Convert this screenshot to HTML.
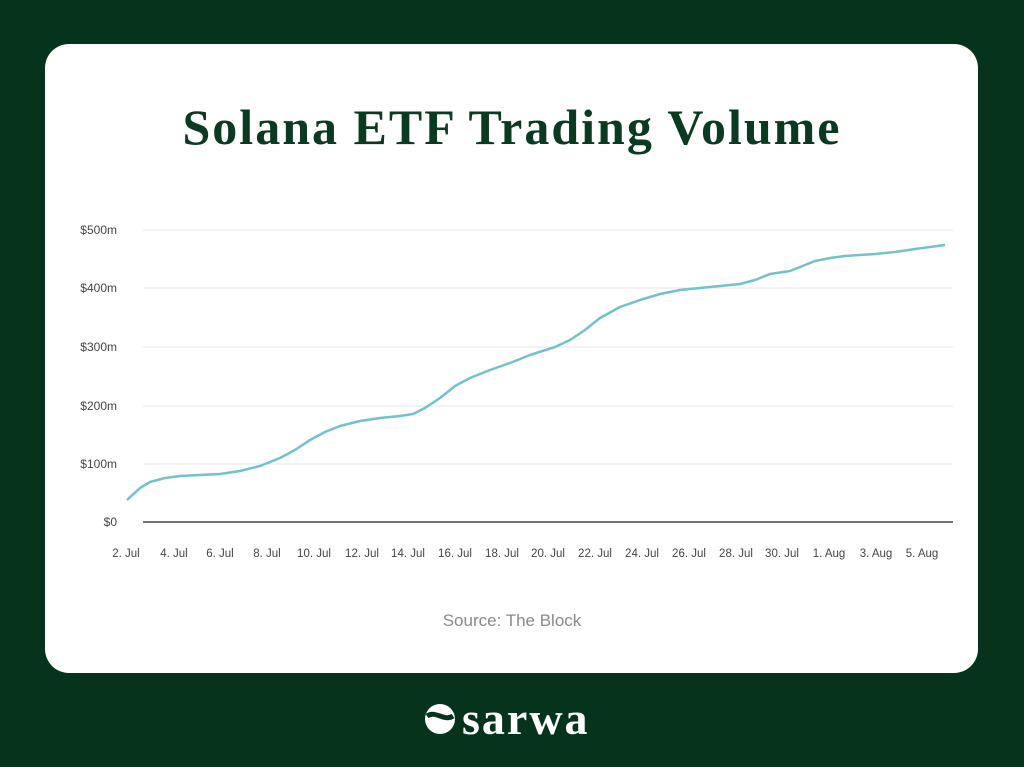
<!DOCTYPE html>
<html><head><meta charset="utf-8"><style>
body{margin:0;width:1024px;height:767px;background:#05331c;overflow:hidden;position:relative;font-family:"Liberation Sans",sans-serif}
.card{position:absolute;left:45px;top:44px;width:933px;height:629px;background:#fff;border-radius:24px}
.title{position:absolute;left:0;top:98px;width:1024px;text-align:center;font-family:"Liberation Serif",serif;font-weight:bold;font-size:50px;color:#0b3a22;letter-spacing:2px}
svg{position:absolute;left:0;top:0}
.logo{position:absolute;left:462px;top:692px;color:#fff;font-family:"Liberation Serif",serif;font-size:46px;font-weight:bold;letter-spacing:2px}
</style></head><body>
<div class="card"></div>
<div class="title">Solana ETF Trading Volume</div>
<svg width="1024" height="767" font-family="Liberation Sans, sans-serif" font-size="12" fill="#444">
<g stroke="#e4e4e4" stroke-width="1">
<line x1="143" x2="953" y1="230" y2="230"/><line x1="143" x2="953" y1="288" y2="288"/><line x1="143" x2="953" y1="347" y2="347"/><line x1="143" x2="953" y1="406" y2="406"/><line x1="143" x2="953" y1="464" y2="464"/>
</g>
<line x1="143" x2="953" y1="522" y2="522" stroke="#444" stroke-width="1.5"/>
<g text-anchor="end"><text x="117" y="234">$500m</text><text x="117" y="292">$400m</text><text x="117" y="351">$300m</text><text x="117" y="410">$200m</text><text x="117" y="468">$100m</text><text x="117" y="526">$0</text></g>
<g text-anchor="middle" font-size="11.5">
<text x="126" y="557">2. Jul</text><text x="174" y="557">4. Jul</text><text x="220" y="557">6. Jul</text><text x="267" y="557">8. Jul</text><text x="314" y="557">10. Jul</text><text x="362" y="557">12. Jul</text><text x="408" y="557">14. Jul</text><text x="455" y="557">16. Jul</text><text x="502" y="557">18. Jul</text><text x="548" y="557">20. Jul</text><text x="595" y="557">22. Jul</text><text x="642" y="557">24. Jul</text><text x="689" y="557">26. Jul</text><text x="736" y="557">28. Jul</text><text x="782" y="557">30. Jul</text><text x="829" y="557">1. Aug</text><text x="876" y="557">3. Aug</text><text x="922" y="557">5. Aug</text>
</g>
<polyline fill="none" stroke="#72c1cd" stroke-width="2.5" stroke-linejoin="round" points="127,500 140,488 150,482 165,478 180,476 200,475 220,474 240,471 260,466 280,458 295,450 310,440 325,432 340,426 360,421 380,418 400,416 413,414 425,408 440,398 455,386 470,378 490,370 510,363 530,355 555,347 570,340 585,330 600,318 620,307 640,300 660,294 680,290 700,288 720,286 740,284 755,280 770,274 790,271 800,267 815,261 830,258 845,256 860,255 875,254 895,252 915,249 930,247 945,245"/>
<text x="512" y="626" text-anchor="middle" font-size="17" fill="#8a8a8a">Source: The Block</text>
<g transform="translate(440,719)"><circle r="15" fill="#fff"/><path d="M-13,-3 C-4,-9 4,3 13,-3" stroke="#05331c" stroke-width="5" fill="none"/></g>
</svg>
<div class="logo">sarwa</div>
</body></html>
